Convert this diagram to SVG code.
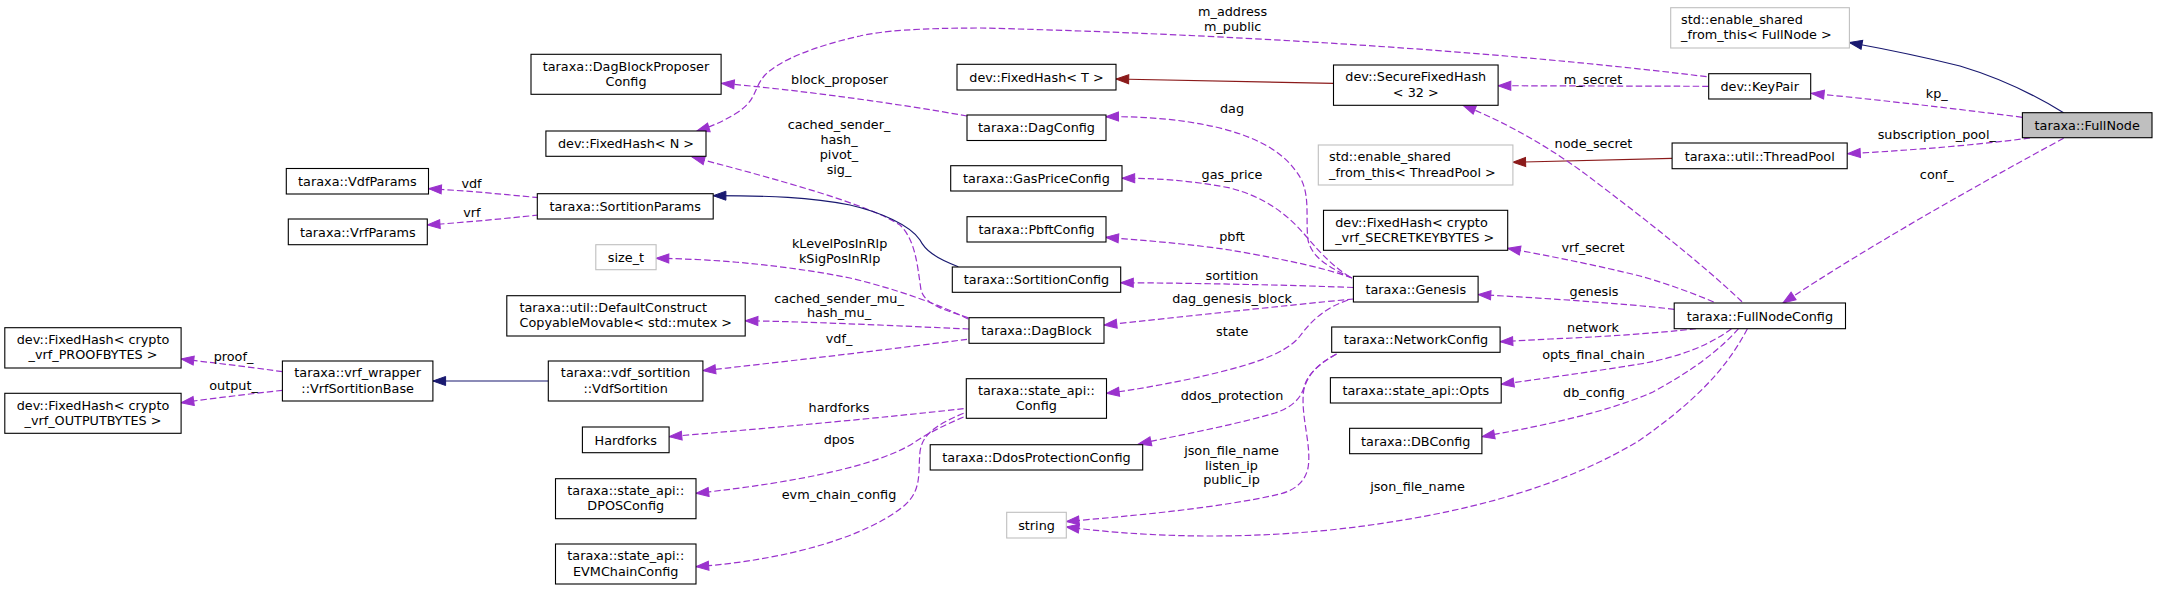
<svg xmlns="http://www.w3.org/2000/svg" width="2157" height="590" viewBox="0 0 2157 590">
<style>
rect{fill:#fff;stroke:#000;stroke-width:1.1}
.u rect{stroke:#bfbfbf}
.r rect{fill:#bfbfbf}
text{font-family:"DejaVu Sans","Liberation Sans",sans-serif;font-size:12.8px;fill:#000}
.c{text-anchor:middle}
#edges path{fill:none;stroke-width:1.2}
#edges .p{stroke:#9a32cd;stroke-dasharray:6.5,3;marker-end:url(#ap)}
#edges .b{stroke:#191970;marker-end:url(#ab)}
#edges .f{stroke:#8b1a1a;marker-end:url(#af)}
</style>
<defs>
<marker id="ap" markerUnits="userSpaceOnUse" markerWidth="14" markerHeight="10" viewBox="0 0 14 10" refX="12.7" refY="4.5" orient="auto" overflow="visible"><path d="M0,0 L12.7,4.5 L0,9 z" fill="#9a32cd" stroke="#9a32cd" stroke-width="1" stroke-dasharray="none"/></marker>
<marker id="ab" markerUnits="userSpaceOnUse" markerWidth="14" markerHeight="10" viewBox="0 0 14 10" refX="12.7" refY="4.5" orient="auto" overflow="visible"><path d="M0,0 L12.7,4.5 L0,9 z" fill="#191970" stroke="#191970" stroke-width="1"/></marker>
<marker id="af" markerUnits="userSpaceOnUse" markerWidth="14" markerHeight="10" viewBox="0 0 14 10" refX="12.7" refY="4.5" orient="auto" overflow="visible"><path d="M0,0 L12.7,4.5 L0,9 z" fill="#8b1a1a" stroke="#8b1a1a" stroke-width="1"/></marker>
</defs>
<rect x="0" y="0" width="2157" height="590" style="fill:#fff;stroke:none"/>

<g id="edges">
<path class="b" d="M2063.6,112.7 C2030,92 2000,78 1960,66 C1920,56 1885,49 1849.4,42.5"/>
<path class="p" d="M2022.4,117.3 C1950,108 1880,100 1811.4,93.3"/>
<path class="p" d="M2030,138 C2000,142 1960,146 1920,149 C1895,151 1870,152.5 1847.6,153.7"/>
<path class="p" d="M2063.6,138.3 C1990,178 1870,245 1783,303"/>
<path class="p" d="M1708.7,86.3 L1498.1,85.7"/>
<path class="p" d="M1706.6,76.7 C1450,45 1150,32 980,28 C920,28 880,31 860,36 C815,46 780,60 765,75 C752,90 758,100 735,114 C722,122 710,127 696.7,131"/>
<path class="f" d="M1333.5,83.3 L1116,79"/>
<path class="f" d="M1672.1,158.3 L1512.9,162.3"/>
<path class="p" d="M1742,301.7 C1700,262 1640,215 1580,170 C1535,138 1495,118 1463,105.3"/>
<path class="p" d="M1713.7,302 C1690,292 1665,283 1640,276 C1600,266 1550,256 1507.7,248.3"/>
<path class="p" d="M1674.2,309.3 C1620,303 1540,298 1478.1,294.5"/>
<path class="p" d="M1696,328.7 C1660,333 1600,337 1550,339 C1530,340 1515,341 1500.1,341.7"/>
<path class="p" d="M1731.4,328.7 C1710,345 1680,357 1640,364 C1590,372 1540,379 1501.2,384.3"/>
<path class="p" d="M1738.5,328.7 C1720,350 1690,372 1653,392 C1600,415 1530,428 1481.9,436.7"/>
<path class="p" d="M1747.4,328.7 C1725,372 1690,405 1640,440 C1570,483 1470,515 1330,530 C1220,541 1130,535 1066.3,527"/>
<path class="p" d="M1336.5,354 C1318,364 1307,375 1303.8,390 C1300,415 1312,445 1308,468 C1305,482 1295,490 1280,494 C1220,508 1130,516 1066.3,521.5"/>
<path class="p" d="M1336.5,354 C1318,364 1307,375 1303.8,388 C1300,400 1290,408 1275,413 C1230,426 1180,435 1138.5,444"/>
<path class="p" d="M1352,278 C1330,268 1312,258 1308,240 C1305,215 1312,190 1295,170 C1265,128 1180,116 1105.8,116.7"/>
<path class="p" d="M1350,277 C1335,268 1322,255 1305,235 C1288,215 1265,197 1230,188 C1190,180 1150,178 1122,178.3"/>
<path class="p" d="M1352,278 C1320,266 1270,257 1230,250 C1190,244 1140,240 1105.8,237.3"/>
<path class="p" d="M1353.4,287.5 C1290,285 1190,283 1120.6,282.7"/>
<path class="p" d="M1353.4,299 C1280,306 1180,317 1104.1,325"/>
<path class="p" d="M1348,300 C1325,308 1312,320 1300,336 C1285,356 1240,368 1190,379 C1160,385 1135,390 1106.5,393.3"/>
<path class="p" d="M967,116 C900,104 800,90 721.5,83.3"/>
<path class="p" d="M968.3,317.7 C945,310 925,305 921,290 C917,262 915,240 900,225 C870,205 780,180 692,157"/>
<path class="p" d="M968.3,319 C940,305 900,290 850,278 C790,266 720,259 656.1,258.3"/>
<path class="p" d="M969,329 C900,326 820,322 745.2,320.7"/>
<path class="p" d="M967,339.3 C900,348 800,360 702.9,370.7"/>
<path class="b" d="M958.3,266.7 C935,258 925,250 920,240 C910,225 880,212 850,205 C810,197 770,195.7 713.2,195.7"/>
<path class="p" d="M963.6,408.7 C880,418 770,428 669.1,436.7"/>
<path class="p" d="M963.6,417 C945,425 930,432 915,442 C880,465 800,482 696,493.3"/>
<path class="p" d="M963.6,413.3 C935,425 922,435 920,452 C918,472 922,490 905,505 C870,535 790,560 696,566.7"/>
<path class="b" d="M548.3,381 L432.9,381"/>
<path class="p" d="M539,197.7 C500,194 470,191 428.7,188.7"/>
<path class="p" d="M539,215 C500,219 470,222 427.3,225"/>
<path class="p" d="M282.4,371.7 C250,367 215,363 181.1,359"/>
<path class="p" d="M282.4,390.3 C250,394 215,398 181.1,402.7"/>
<g class="c">
<text x="1936.8" y="97.5">kp_</text>
<text x="1936.8" y="138.5">subscription_pool_</text>
<text x="1936.8" y="178.5">conf_</text>
<text x="1232.6" y="16">m_address</text>
<text x="1232.6" y="30.8">m_public</text>
<text x="1593" y="83.5">m_secret</text>
<text x="1593.5" y="147.5">node_secret</text>
<text x="1593" y="251.5">vrf_secret</text>
<text x="1594" y="295.5">genesis</text>
<text x="1593" y="332">network</text>
<text x="1593.5" y="358.5">opts_final_chain</text>
<text x="1594" y="397">db_config</text>
<text x="1417.5" y="491">json_file_name</text>
<text x="1231.5" y="455">json_file_name</text>
<text x="1231.5" y="469.5">listen_ip</text>
<text x="1231.5" y="484">public_ip</text>
<text x="1232" y="399.5">ddos_protection</text>
<text x="1232.2" y="336">state</text>
<text x="1232" y="302.5">dag_genesis_block</text>
<text x="1232" y="279.5">sortition</text>
<text x="1232" y="240.5">pbft</text>
<text x="1232" y="178.5">gas_price</text>
<text x="1232" y="112.5">dag</text>
<text x="839.6" y="84">block_proposer</text>
<text x="839" y="128.5">cached_sender_</text>
<text x="839" y="143.5">hash_</text>
<text x="839" y="158.5">pivot_</text>
<text x="839" y="173.5">sig_</text>
<text x="839.6" y="247.8">kLevelPosInRlp</text>
<text x="839.6" y="262.8">kSigPosInRlp</text>
<text x="839" y="302.8">cached_sender_mu_</text>
<text x="839" y="317">hash_mu_</text>
<text x="839" y="342.8">vdf_</text>
<text x="839" y="411.5">hardforks</text>
<text x="839" y="443.8">dpos</text>
<text x="839" y="499.2">evm_chain_config</text>
<text x="471.5" y="187.5">vdf</text>
<text x="471.8" y="216.5">vrf</text>
<text x="233.5" y="360.5">proof_</text>
<text x="233.5" y="389.5">output_</text>
</g>
</g>

<g id="FullNode" class="r"><rect x="2022.4" y="112.7" width="129.6" height="25"/><text class="c" x="2087.2" y="129.8">taraxa::FullNode</text></g>
<g id="EnableSharedFullNode" class="u"><rect x="1670.7" y="7.7" width="178.7" height="40.3"/><text x="1681" y="23.8">std::enable_shared</text><text x="1681" y="38.9">_from_this&lt; FullNode &gt;</text></g>
<g id="KeyPair"><rect x="1708.7" y="73.7" width="102" height="25.3"/><text class="c" x="1759.7" y="91">dev::KeyPair</text></g>
<g id="ThreadPool"><rect x="1672.1" y="143" width="175.1" height="25.7"/><text class="c" x="1759.7" y="160.5">taraxa::util::ThreadPool</text></g>
<g id="FullNodeConfig"><rect x="1674.2" y="303" width="171.3" height="25.7"/><text class="c" x="1759.9" y="320.5">taraxa::FullNodeConfig</text></g>
<g id="SecureFixedHash"><rect x="1333.5" y="65" width="164.6" height="40.3"/><text class="c" x="1415.8" y="81.3">dev::SecureFixedHash</text><text class="c" x="1415.8" y="96.6">&lt; 32 &gt;</text></g>
<g id="EnableSharedThreadPool" class="u"><rect x="1318.3" y="145" width="194.6" height="40"/><text x="1329" y="161.3">std::enable_shared</text><text x="1329" y="176.6">_from_this&lt; ThreadPool &gt;</text></g>
<g id="FixedHashSecretKey"><rect x="1323.5" y="210.3" width="184.2" height="40"/><text x="1335.2" y="226.6">dev::FixedHash&lt; crypto</text><text x="1335.2" y="241.9">_vrf_SECRETKEYBYTES &gt;</text></g>
<g id="Genesis"><rect x="1353.4" y="276.3" width="124.7" height="25.7"/><text class="c" x="1415.75" y="293.8">taraxa::Genesis</text></g>
<g id="NetworkConfig"><rect x="1331.7" y="327" width="168.4" height="25.3"/><text class="c" x="1415.9" y="344.3">taraxa::NetworkConfig</text></g>
<g id="Opts"><rect x="1330.4" y="377.7" width="170.8" height="25.3"/><text class="c" x="1415.8" y="395">taraxa::state_api::Opts</text></g>
<g id="DBConfig"><rect x="1349.6" y="428.3" width="132.3" height="25.4"/><text class="c" x="1415.75" y="445.6">taraxa::DBConfig</text></g>
<g id="FixedHashT"><rect x="957" y="64.3" width="159" height="25.7"/><text class="c" x="1036.5" y="81.8">dev::FixedHash&lt; T &gt;</text></g>
<g id="DagConfig"><rect x="967" y="115" width="139" height="25.5"/><text class="c" x="1036.5" y="132.4">taraxa::DagConfig</text></g>
<g id="GasPriceConfig"><rect x="950.7" y="165.7" width="171.3" height="25.3"/><text class="c" x="1036.4" y="183">taraxa::GasPriceConfig</text></g>
<g id="PbftConfig"><rect x="967" y="216.7" width="139" height="25.3"/><text class="c" x="1036.5" y="234">taraxa::PbftConfig</text></g>
<g id="SortitionConfig"><rect x="952.3" y="267" width="168.4" height="25.3"/><text class="c" x="1036.5" y="284.3">taraxa::SortitionConfig</text></g>
<g id="DagBlock"><rect x="969" y="317.7" width="135" height="25.6"/><text class="c" x="1036.5" y="335.1">taraxa::DagBlock</text></g>
<g id="StateApiConfig"><rect x="966.3" y="378.7" width="140.2" height="39.6"/><text class="c" x="1036.4" y="395">taraxa::state_api::</text><text class="c" x="1036.4" y="410.3">Config</text></g>
<g id="DdosProtectionConfig"><rect x="930.2" y="444.7" width="212.5" height="25.3"/><text class="c" x="1036.45" y="462">taraxa::DdosProtectionConfig</text></g>
<g id="string" class="u"><rect x="1006.7" y="512.3" width="59.6" height="25.7"/><text class="c" x="1036.5" y="529.8">string</text></g>
<g id="DagBlockProposerConfig"><rect x="531" y="54.3" width="190.1" height="40"/><text class="c" x="626" y="70.6">taraxa::DagBlockProposer</text><text class="c" x="626" y="85.9">Config</text></g>
<g id="FixedHashN"><rect x="545.9" y="131" width="160.1" height="25.3"/><text class="c" x="626" y="148.3">dev::FixedHash&lt; N &gt;</text></g>
<g id="SortitionParams"><rect x="537.3" y="193.7" width="175.9" height="25.3"/><text class="c" x="625.25" y="211">taraxa::SortitionParams</text></g>
<g id="size_t" class="u"><rect x="595.8" y="244.7" width="60.3" height="25"/><text class="c" x="625.95" y="261.8">size_t</text></g>
<g id="DefaultConstructCopyableMovable"><rect x="506.8" y="295.7" width="238.4" height="40.3"/><text x="519.5" y="312">taraxa::util::DefaultConstruct</text><text x="519.5" y="327.3">CopyableMovable&lt; std::mutex &gt;</text></g>
<g id="VdfSortition"><rect x="548.3" y="361" width="154.6" height="40"/><text class="c" x="625.6" y="377.3">taraxa::vdf_sortition</text><text class="c" x="625.6" y="392.6">::VdfSortition</text></g>
<g id="Hardforks"><rect x="582.4" y="427" width="86.7" height="25.7"/><text class="c" x="625.75" y="444.5">Hardforks</text></g>
<g id="DPOSConfig"><rect x="555.5" y="478.7" width="140.5" height="40"/><text class="c" x="625.75" y="495">taraxa::state_api::</text><text class="c" x="625.75" y="510.3">DPOSConfig</text></g>
<g id="EVMChainConfig"><rect x="555.5" y="544" width="140.5" height="40"/><text class="c" x="625.75" y="560.3">taraxa::state_api::</text><text class="c" x="625.75" y="575.6">EVMChainConfig</text></g>
<g id="VdfParams"><rect x="286.3" y="168.5" width="142.2" height="25.5"/><text class="c" x="357.4" y="185.9">taraxa::VdfParams</text></g>
<g id="VrfParams"><rect x="288.3" y="219" width="139" height="25.7"/><text class="c" x="357.8" y="236.5">taraxa::VrfParams</text></g>
<g id="VrfSortitionBase"><rect x="282.4" y="361" width="150.5" height="40"/><text class="c" x="357.65" y="377.3">taraxa::vrf_wrapper</text><text class="c" x="357.65" y="392.6">::VrfSortitionBase</text></g>
<g id="FixedHashProof"><rect x="4.8" y="327.7" width="176.3" height="40.3"/><text class="c" x="93" y="344">dev::FixedHash&lt; crypto</text><text class="c" x="93" y="359.3">_vrf_PROOFBYTES &gt;</text></g>
<g id="FixedHashOutput"><rect x="4.8" y="393.3" width="176.3" height="40"/><text class="c" x="93" y="409.6">dev::FixedHash&lt; crypto</text><text class="c" x="93" y="424.9">_vrf_OUTPUTBYTES &gt;</text></g>
</svg>
